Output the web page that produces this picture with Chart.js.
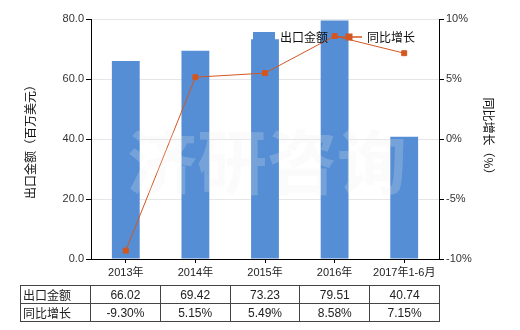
<!DOCTYPE html>
<html>
<head>
<meta charset="utf-8">
<script src="https://cdn.jsdelivr.net/npm/chart.js@4"></script>
<style>
    body { margin: 0; background: #fff; }
    #caixa { position: relative; width: 520px; height: 330px; }
    #tabela {
        position: absolute; left: 20px; top: 285px;
        border-collapse: collapse; table-layout: fixed; width: 419px;
        font: 12px "Liberation Sans", "Noto Sans CJK SC", sans-serif; color: #222;
    }
    #tabela td { border: 1px solid #444; height: 17px; padding: 0; text-align: center; white-space: nowrap; }
    #tabela td.rotulo { text-align: left; padding-left: 2px; }
</style>
</head>
<body>
<div id="caixa">
    <canvas id="grafico" width="520" height="330"></canvas>
    <table id="tabela"></table>
</div>
<script>
var categorias = ['2013年', '2014年', '2015年', '2016年', '2017年1-6月'];
var exportacao = [66.02, 69.42, 73.23, 79.51, 40.74];
var crescimento = [-9.30, 5.15, 5.49, 8.58, 7.15];
var ticksEsquerda = [0, 20, 40, 60, 80];
var ticksDireita = [-10, -5, 0, 5, 10];

var corBarra = '#558ED5';
var corLinha = '#D4561F';

// tabela de dados embaixo do grafico
var tabela = document.getElementById('tabela');
var html = '<colgroup><col style="width:70px">';
categorias.forEach(function () { html += '<col style="width:69.8px">'; });
html += '</colgroup>';
html += '<tr><td class="rotulo">出口金额</td>';
exportacao.forEach(function (v) { html += '<td>' + v.toFixed(2) + '</td>'; });
html += '</tr><tr><td class="rotulo">同比增长</td>';
crescimento.forEach(function (v) { html += '<td>' + v.toFixed(2) + '%</td>'; });
html += '</tr>';
tabela.innerHTML = html;

Chart.defaults.font.family = '"Liberation Sans", "Noto Sans CJK SC", sans-serif';
Chart.defaults.font.size = 11;
Chart.defaults.color = '#333';

var extras = {
    id: 'extras',
    afterDatasetsDraw: function (chart) {
        var ctx = chart.ctx;
        var area = chart.chartArea;
        ctx.save();
        ctx.font = 'bold 70px "Noto Sans CJK SC"';
        ctx.fillStyle = 'rgba(235,235,235,0.22)';
        ctx.textAlign = 'center';
        ctx.textBaseline = 'middle';
        ctx.fillText('济研咨询', (area.left + area.right) / 2 + 2, 162);
        ctx.restore();
    },
    afterDraw: function (chart) {
        // legenda dentro da area do grafico
        var ctx = chart.ctx;
        ctx.save();
        ctx.font = '12px "Noto Sans CJK SC"';
        ctx.textBaseline = 'middle';
        ctx.fillStyle = corBarra;
        ctx.fillRect(253, 32, 22, 10);
        ctx.fillStyle = '#111';
        ctx.fillText('出口金额', 280, 37);
        ctx.strokeStyle = corLinha;
        ctx.lineWidth = 1.5;
        ctx.beginPath();
        ctx.moveTo(336, 37);
        ctx.lineTo(362, 37);
        ctx.stroke();
        ctx.fillStyle = corLinha;
        ctx.fillRect(345.5, 33.5, 7, 7);
        ctx.fillStyle = '#111';
        ctx.fillText('同比增长', 367, 37);
        ctx.restore();
    }
};

new Chart(document.getElementById('grafico'), {
    type: 'bar',
    data: {
        labels: categorias,
        datasets: [
            {
                type: 'line',
                label: '同比增长',
                data: crescimento,
                yAxisID: 'y1',
                borderColor: corLinha,
                backgroundColor: corLinha,
                borderWidth: 1,
                pointStyle: 'rect',
                pointRadius: 3.5,
                fill: false,
                order: 0
            },
            {
                label: '出口金额',
                data: exportacao,
                yAxisID: 'y',
                backgroundColor: corBarra,
                categoryPercentage: 1,
                barPercentage: 0.4,
                order: 1
            }
        ]
    },
    options: {
        responsive: false,
        animation: false,
        devicePixelRatio: 1,
        layout: { padding: { top: 19, left: 0, right: 0, bottom: 0 } },
        plugins: { legend: { display: false }, tooltip: { enabled: false } },
        scales: {
            x: {
                offset: true,
                grid: { drawOnChartArea: false, drawTicks: true, tickLength: 4, tickColor: '#000', offset: false },
                border: { color: '#000', width: 1 },
                ticks: { padding: 3, maxRotation: 0, autoSkip: false, color: '#222' },
                afterFit: function (s) { s.height = 71; }
            },
            y: {
                position: 'left',
                min: 0, max: 80,
                afterBuildTicks: function (s) { s.ticks = ticksEsquerda.map(function (v) { return { value: v }; }); },
                ticks: { padding: 2, color: '#333', callback: function (v) { return v.toFixed(1); } },
                grid: { color: '#e6e6e6', tickColor: '#000', tickLength: 5 },
                border: { color: '#000', width: 1 },
                title: { display: true, text: '出口金额（百万美元）', color: '#111', font: { size: 12, family: '"Noto Sans CJK SC"' }, padding: { top: 23, bottom: 0 } },
                afterFit: function (s) { s.width = 91; }
            },
            y1: {
                position: 'right',
                min: -10, max: 10,
                afterBuildTicks: function (s) { s.ticks = ticksDireita.map(function (v) { return { value: v }; }); },
                ticks: { padding: 2, color: '#333', callback: function (v) { return v + '%'; } },
                grid: { drawOnChartArea: false, tickColor: '#000', tickLength: 5 },
                border: { color: '#000', width: 1 },
                title: { display: true, text: '同比增长（%）', color: '#111', font: { size: 12, family: '"Noto Sans CJK SC"' }, padding: { top: 24, bottom: 0 } },
                afterFit: function (s) { s.width = 81; }
            }
        }
    },
    plugins: [extras]
});
</script>
</body>
</html>
